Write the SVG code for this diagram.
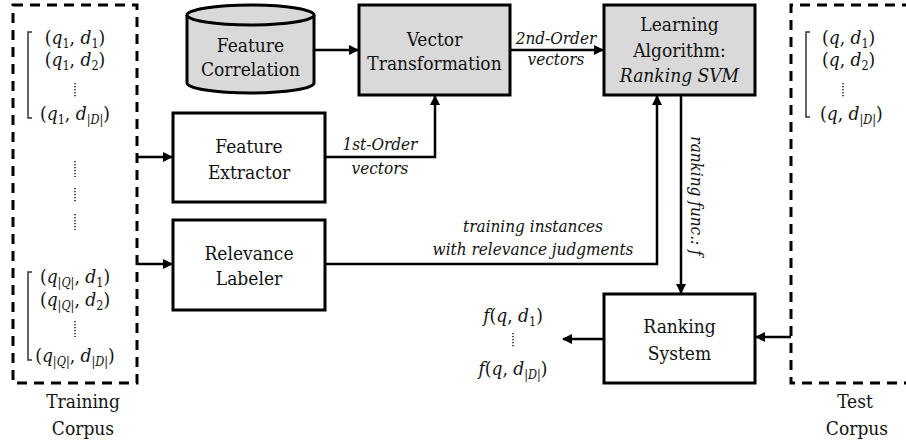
<svg xmlns="http://www.w3.org/2000/svg" width="906" height="445" viewBox="0 0 906 445">
<style>
.box{fill:#ffffff;stroke:#000;stroke-width:3}
.gray{fill:#d9d9d9;stroke:#000;stroke-width:3}
.dash{fill:none;stroke:#000;stroke-width:3;stroke-dasharray:10 7}
.con{fill:none;stroke:#000;stroke-width:2.5}
.brk{fill:none;stroke:#333;stroke-width:1.5}
.dots{stroke:#222;stroke-width:1.6;stroke-dasharray:1.2 1.8}
text{fill:#111;font-family:'DejaVu Serif','Liberation Serif',serif;font-stretch:condensed}
.lbl{font-size:19px;text-anchor:middle}
.math{font-size:19px;text-anchor:middle}
.mst{font-size:19px;text-anchor:start}
.it{font-size:17px;font-style:italic;text-anchor:middle}
.i{font-style:italic}
</style>
<defs>
<marker id="ah" markerUnits="userSpaceOnUse" markerWidth="10" markerHeight="10" refX="9" refY="5" orient="auto">
<path d="M0,0 L10,5 L0,10 z" fill="#000"/>
</marker>
</defs>
<rect width="906" height="445" fill="#fff"/>

<g id="training-corpus">
<rect class="dash" x="13" y="5" width="124" height="378"/>
<path class="brk" d="M32,32 H28 V118 H32"/>
<text class="math" x="75" y="44">(<tspan class="i">q</tspan><tspan font-size="12.5" dy="4">1</tspan><tspan dy="-4">, </tspan><tspan class="i">d</tspan><tspan font-size="12.5" dy="4">1</tspan><tspan dy="-4">)</tspan></text>
<text class="math" x="75" y="66">(<tspan class="i">q</tspan><tspan font-size="12.5" dy="4">1</tspan><tspan dy="-4">, </tspan><tspan class="i">d</tspan><tspan font-size="12.5" dy="4">2</tspan><tspan dy="-4">)</tspan></text>
<line class="dots" x1="75" y1="83" x2="75" y2="97"/>
<text class="math" x="75" y="120">(<tspan class="i">q</tspan><tspan font-size="12.5" dy="4">1</tspan><tspan dy="-4">, </tspan><tspan class="i">d</tspan><tspan font-size="12.5" dy="4">|<tspan class="i">D</tspan>|</tspan><tspan dy="-4">)</tspan></text>
<line class="dots" x1="75" y1="161" x2="75" y2="177"/>
<line class="dots" x1="75" y1="188" x2="75" y2="203"/>
<line class="dots" x1="75" y1="214" x2="75" y2="230"/>
<path class="brk" d="M32,272 H28 V360 H32"/>
<text class="math" x="75" y="283">(<tspan class="i">q</tspan><tspan font-size="12.5" dy="4">|<tspan class="i">Q</tspan>|</tspan><tspan dy="-4">, </tspan><tspan class="i">d</tspan><tspan font-size="12.5" dy="4">1</tspan><tspan dy="-4">)</tspan></text>
<text class="math" x="75" y="306">(<tspan class="i">q</tspan><tspan font-size="12.5" dy="4">|<tspan class="i">Q</tspan>|</tspan><tspan dy="-4">, </tspan><tspan class="i">d</tspan><tspan font-size="12.5" dy="4">2</tspan><tspan dy="-4">)</tspan></text>
<line class="dots" x1="75" y1="321" x2="75" y2="337"/>
<text class="math" x="75" y="362">(<tspan class="i">q</tspan><tspan font-size="12.5" dy="4">|<tspan class="i">Q</tspan>|</tspan><tspan dy="-4">, </tspan><tspan class="i">d</tspan><tspan font-size="12.5" dy="4">|<tspan class="i">D</tspan>|</tspan><tspan dy="-4">)</tspan></text>
<text class="lbl" x="83" y="408">Training</text>
<text class="lbl" x="83" y="435">Corpus</text>
</g>

<g id="test-corpus">
<path class="dash" d="M912,5 H791 V383 H912"/>
<path class="brk" d="M810,32 H806 V117 H810"/>
<text class="mst" x="822" y="44">(<tspan class="i">q</tspan>, <tspan class="i">d</tspan><tspan font-size="12.5" dy="4">1</tspan><tspan dy="-4">)</tspan></text>
<text class="mst" x="822" y="66">(<tspan class="i">q</tspan>, <tspan class="i">d</tspan><tspan font-size="12.5" dy="4">2</tspan><tspan dy="-4">)</tspan></text>
<line class="dots" x1="843" y1="83" x2="843" y2="97"/>
<text class="mst" x="820" y="120">(<tspan class="i">q</tspan>, <tspan class="i">d</tspan><tspan font-size="12.5" dy="4">|<tspan class="i">D</tspan>|</tspan><tspan dy="-4">)</tspan></text>
<text class="lbl" x="855" y="408">Test</text>
<text class="lbl" x="857" y="435">Corpus</text>
</g>

<g id="feature-correlation">
<path class="gray" d="M187,15 V83 A63.5,10 0 0 0 314,83 V15"/>
<ellipse class="gray" cx="250.5" cy="15" rx="63.5" ry="10"/>
<text class="lbl" x="250.5" y="52">Feature</text>
<text class="lbl" x="250.5" y="76">Correlation</text>
</g>

<g id="vector-transformation">
<rect class="gray" x="359" y="5" width="151" height="90"/>
<text class="lbl" x="434.5" y="46">Vector</text>
<text class="lbl" x="434.5" y="70">Transformation</text>
</g>

<g id="learning-algorithm">
<rect class="gray" x="604" y="5" width="151" height="90"/>
<text class="lbl" x="679.5" y="31">Learning</text>
<text class="lbl" x="679.5" y="57">Algorithm:</text>
<text class="lbl" x="679.5" y="82" font-style="italic">Ranking SVM</text>
</g>

<g id="feature-extractor">
<rect class="box" x="173" y="113" width="152" height="89"/>
<text class="lbl" x="249" y="153">Feature</text>
<text class="lbl" x="249" y="179">Extractor</text>
</g>

<g id="relevance-labeler">
<rect class="box" x="173" y="220" width="152" height="90"/>
<text class="lbl" x="249" y="260">Relevance</text>
<text class="lbl" x="249" y="285">Labeler</text>
</g>

<g id="ranking-system">
<rect class="box" x="604" y="294" width="151" height="89"/>
<text class="lbl" x="679.5" y="333">Ranking</text>
<text class="lbl" x="679.5" y="360">System</text>
</g>

<g id="output">
<text class="math" x="513" y="322"><tspan class="i">f</tspan>(<tspan class="i">q</tspan>, <tspan class="i">d</tspan><tspan font-size="12.5" dy="4">1</tspan><tspan dy="-4">)</tspan></text>
<line class="dots" x1="513" y1="333" x2="513" y2="347"/>
<text class="math" x="513" y="375"><tspan class="i">f</tspan>(<tspan class="i">q</tspan>, <tspan class="i">d</tspan><tspan font-size="12.5" dy="4">|<tspan class="i">D</tspan>|</tspan><tspan dy="-4">)</tspan></text>
</g>

<g id="connectors">
<path class="con" d="M314,50 H358" marker-end="url(#ah)"/>
<path class="con" d="M510,50 H603" marker-end="url(#ah)"/>
<path class="con" d="M325,157 H435 V96" marker-end="url(#ah)"/>
<path class="con" d="M325,264 H657 V96" marker-end="url(#ah)"/>
<path class="con" d="M681,95 V293" marker-end="url(#ah)"/>
<path class="con" d="M604,339 H563" marker-end="url(#ah)"/>
<path class="con" d="M137,157 H172" marker-end="url(#ah)"/>
<path class="con" d="M137,264 H172" marker-end="url(#ah)"/>
<path class="con" d="M791,337 H756" marker-end="url(#ah)"/>
<text class="it" x="556" y="44">2nd-Order</text>
<text class="it" x="556" y="65">vectors</text>
<text class="it" x="380" y="150">1st-Order</text>
<text class="it" x="380" y="174">vectors</text>
<text class="it" x="533" y="232">training instances</text>
<text class="it" x="533" y="255">with relevance judgments</text>
<text class="it" transform="translate(691,196) rotate(90)">ranking func.: f</text>
</g>
</svg>
